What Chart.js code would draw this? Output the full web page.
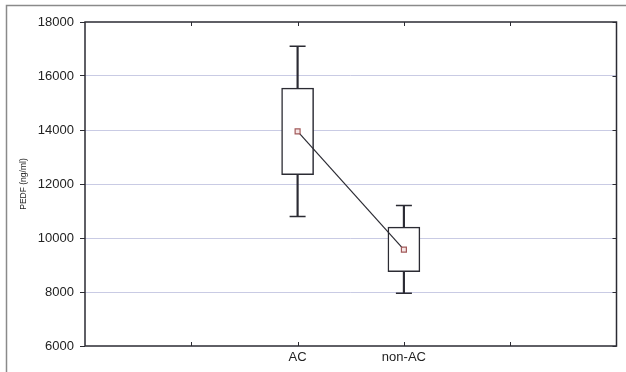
<!DOCTYPE html>
<html>
<head>
<meta charset="utf-8">
<style>
  html, body { margin: 0; padding: 0; background: #ffffff; }
  #wrap { width: 626px; height: 372px; position: relative; }
</style>
<script src="https://cdn.jsdelivr.net/npm/chart.js@4/dist/chart.umd.min.js"></script>
</head>
<body>
<div id="wrap"><canvas id="c" width="626" height="372"></canvas></div>
<script>
// ---- data ----
const categories = ["AC", "non-AC"];
const catPositions = [2, 3];          // positions on the x axis (axis runs 0..5)
const whiskerMin = [10800, 7950];
const boxLow     = [12350, 8750];
const boxHigh    = [15550, 10400];
const whiskerMax = [17100, 11200];
const centers    = [13950, 9570];
const yTicks     = [6000, 8000, 10000, 12000, 14000, 16000, 18000];
const yLabel     = "PEDF (ng/ml)";

const INK = "#2b2b33";

const boxData   = categories.map((c, i) => ({ x: catPositions[i], y: [boxLow[i], boxHigh[i]] }));
const lowWhisk  = categories.map((c, i) => ({ x: catPositions[i], y: [whiskerMin[i], boxLow[i]] }));
const highWhisk = categories.map((c, i) => ({ x: catPositions[i], y: [boxHigh[i], whiskerMax[i]] }));
const capData   = categories.flatMap((c, i) => [
  { x: catPositions[i], y: whiskerMin[i] },
  { x: catPositions[i], y: whiskerMax[i] }
]);
const centerData = categories.map((c, i) => ({ x: catPositions[i], y: centers[i] }));

const framePlugin = {
  id: "frame",
  beforeDraw(chart) {
    const ctx = chart.ctx;
    ctx.save();
    ctx.fillStyle = "#ffffff";
    ctx.fillRect(0, 0, chart.width, chart.height);
    ctx.strokeStyle = "#8a8a8a";
    ctx.lineWidth = 1.5;
    ctx.beginPath();
    ctx.moveTo(6.5, chart.height);
    ctx.lineTo(6.5, 5.5);
    ctx.lineTo(chart.width, 5.5);
    ctx.stroke();
    ctx.restore();
  },
  afterDatasetsDraw(chart) {
    const { ctx, chartArea: a, scales } = chart;
    ctx.save();
    ctx.strokeStyle = INK;
    ctx.lineWidth = 1.5;
    ctx.strokeRect(a.left, a.top, a.right - a.left, a.bottom - a.top);
    ctx.lineWidth = 1;
    ctx.beginPath();
    scales.y.ticks.forEach(t => {
      const py = Math.round(scales.y.getPixelForValue(t.value)) + 0.5;
      ctx.moveTo(a.right, py); ctx.lineTo(a.right - 4, py);
    });
    [1, 2, 3, 4].forEach(v => {
      const px = Math.round(scales.x.getPixelForValue(v)) + 0.5;
      ctx.moveTo(px, a.top); ctx.lineTo(px, a.top + 4);
      ctx.moveTo(px, a.bottom); ctx.lineTo(px, a.bottom - 4);
    });
    ctx.stroke();
    ctx.restore();
  }
};

new Chart(document.getElementById("c"), {
  data: {
    datasets: [
      {
        type: "bar", data: lowWhisk, backgroundColor: INK, borderWidth: 0,
        barThickness: 1.5, grouped: false, order: 5
      },
      {
        type: "bar", data: highWhisk, backgroundColor: INK, borderWidth: 0,
        barThickness: 1.5, grouped: false, order: 5
      },
      {
        type: "scatter", data: capData, pointStyle: "line", pointRadius: 8,
        borderColor: INK, borderWidth: 1.5, order: 4
      },
      {
        type: "bar", data: boxData, backgroundColor: "#ffffff", borderColor: INK,
        borderWidth: 1.5, borderSkipped: false, barThickness: 32, grouped: false, order: 3
      },
      {
        type: "line", data: centerData, borderColor: INK, borderWidth: 1.2,
        pointStyle: "rect", pointRadius: 3.5, pointBorderColor: "#a25a5a",
        pointBackgroundColor: "#f6e6e6", pointBorderWidth: 1.2, order: 1
      }
    ]
  },
  plugins: [framePlugin],
  options: {
    responsive: false,
    animation: false,
    events: [],
    layout: { padding: { top: 22, right: 8, left: 19, bottom: 0 } },
    plugins: { legend: { display: false }, tooltip: { enabled: false } },
    scales: {
      x: {
        type: "linear", min: 0, max: 5, offset: false,
        afterBuildTicks(s) { s.ticks = catPositions.map(v => ({ value: v })); },
        afterFit(s) { s.height = 26; },
        grid: { display: false, drawTicks: false, offset: false },
        border: { display: false },
        ticks: {
          padding: 4, color: "#222",
          font: { family: "Liberation Sans, Arial, sans-serif", size: 13 },
          callback(v) { const i = catPositions.indexOf(v); return i >= 0 ? categories[i] : ""; }
        }
      },
      y: {
        type: "linear", min: 6000, max: 18000,
        afterBuildTicks(s) { s.ticks = yTicks.map(v => ({ value: v })); },
        afterFit(s) { s.width = 66; },
        border: { display: false },
        grid: {
          drawOnChartArea: true, drawTicks: true, tickLength: 5, tickColor: INK,
          color(ctx) { const v = ctx.tick && ctx.tick.value; return (v === 6000 || v === 18000) ? "rgba(0,0,0,0)" : "#c9cbe4"; },
          lineWidth: 1
        },
        ticks: {
          padding: 6, color: "#222",
          font: { family: "Liberation Sans, Arial, sans-serif", size: 13 },
          callback(v) { return String(v); }
        },
        title: {
          display: true, text: yLabel, color: "#222", padding: { top: 0, bottom: 0 },
          font: { family: "Liberation Sans, Arial, sans-serif", size: 8.5 }
        }
      }
    }
  }
});
</script>
</body>
</html>
